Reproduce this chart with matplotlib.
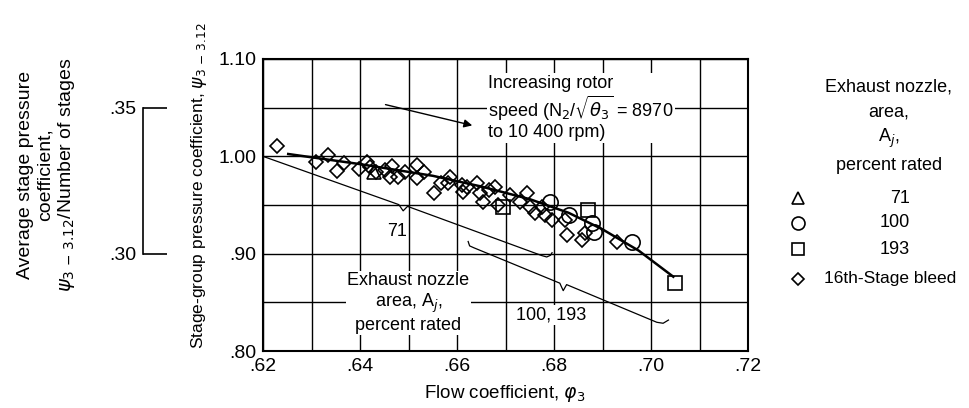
import numpy as np
import matplotlib
matplotlib.use("Agg")
import matplotlib.pyplot as plt

plt.rcParams['font.family'] = ['Liberation Sans', 'DejaVu Sans']
plt.rcParams['font.size'] = 13
plt.rcParams['mathtext.fontset'] = 'dejavusans'

# 16th-stage bleed points (flow coefficient, pressure coefficient)
bleed_phi = [.6228, .6309, .6335, .6352, .6366, .6397, .6414, .6421, .6434, .6452,
             .6462, .6467, .6479, .6493, .6517, .6517, .6531, .6553, .6568, .6586,
             .6582, .6610, .6613, .6620, .6641, .6647, .6654, .6665, .6678, .6685,
             .6709, .6730, .6744, .6751, .6761, .6775, .6781, .6795, .6826, .6823,
             .6857, .6864, .6929]
bleed_psi = [1.0106, .9939, 1.0014, .9852, .9928, .9866, .9945, .9887, .9842, .9860,
             .9791, .9901, .9791, .9842, .9911, .9774, .9842, .9626, .9722, .9791,
             .9722, .9706, .9637, .9680, .9722, .9620, .9534, .9654, .9688, .9500,
             .9603, .9534, .9620, .9483, .9414, .9483, .9397, .9346, .9192, .9346,
             .9140, .9209, .9123]

# exhaust nozzle area points
a71_phi = [.6429]
a71_psi = [.9842]
a100_phi = [.6792, .6830, .6878, .6882, .6960]
a100_psi = [.9534, .9397, .9312, .9226, .9124]
a193_phi = [.6695, .6871, .7049]
a193_psi = [.9483, .9449, .8696]

# faired curve
curve_phi = [.6252, .640, .655, .665, .675, .683, .690, .6975, .7046]
curve_psi = [1.0024, .9920, .9800, .9690, .9560, .9420, .9250, .9030, .8763]

# leader lines with braces
lead71_phi = [.6200, .6480, .6489, .6498, .6775, .6785, .6793, .6796]
lead71_psi = [1.0000, .9504, .9440, .9486, .8980, .8966, .8984, .9010]
lead100_phi = [.6623, .6626, .6635, .6812, .6819, .6826, .7012, .7025, .7036]
lead100_psi = [.9125, .9080, .9060, .8697, .8620, .8682, .8295, .8285, .8318]

xticks = [.62, .64, .66, .68, .70, .72]
xtick_labels = ['.62', '.64', '.66', '.68', '.70', '.72']
yticks = [.80, .90, 1.00, 1.10]
ytick_labels = ['.80', '.90', '1.00', '1.10']

fig = plt.figure(figsize=(9.7, 4.08), dpi=100)
ax = fig.add_axes([263/970, 1 - 351/408, 485/970, 292/408])
ax.set_xlim(.62, .72)
ax.set_ylim(.80, 1.10)
ax.set_xticks(xticks)
ax.set_xticklabels(xtick_labels, fontsize=14)
ax.set_yticks(yticks)
ax.set_yticklabels(ytick_labels, fontsize=14)
ax.set_xticks(np.arange(.63, .72, .02), minor=True)
ax.set_yticks([.85, .95, 1.05], minor=True)
ax.grid(which='both', color='k', lw=1.0)
ax.tick_params(which='both', length=0, pad=5)
for s in ax.spines.values():
    s.set_linewidth(1.5)

ax.plot(curve_phi, curve_psi, color='k', lw=1.8)
ax.plot(lead71_phi, lead71_psi, color='k', lw=0.9)
ax.plot(lead100_phi, lead100_psi, color='k', lw=0.9)

mk = dict(ls='none', mfc='none', mec='k', mew=1.2)
ax.plot(bleed_phi, bleed_psi, marker='D', ms=7.5, **mk)
ax.plot(a71_phi, a71_psi, marker='^', ms=10, **mk)
ax.plot(a100_phi, a100_psi, marker='o', ms=11, **mk)
ax.plot(a193_phi, a193_psi, marker='s', ms=10, **mk)

wbox = dict(facecolor='white', edgecolor='none', pad=1)
ax.text(.6664, 1.0497, 'Increasing rotor\nspeed (N$_2$/$\\sqrt{\\theta_3}$ = 8970\nto 10 400 rpm)',
        ha='left', va='center', linespacing=1.1, bbox=wbox)
ax.annotate('', xy=(.6637, 1.0311), xytext=(.6447, 1.0538),
            arrowprops=dict(arrowstyle='-|>', color='k', lw=1.0, mutation_scale=12))
ax.text(.6476, .9226, '71', ha='center', va='center')
ax.text(.6500, .8493, 'Exhaust nozzle\narea, A$_j$,\npercent rated',
        ha='center', va='center', linespacing=1.15, bbox=wbox)
ax.text(.6795, .8370, '100, 193', ha='center', va='center', bbox=wbox)

# average stage coefficient scale (3 stages)
sec = ax.secondary_yaxis(-0.247, functions=(lambda y: y / 3, lambda y: y * 3))
sec.set_yticks([.30, .35])
sec.set_yticklabels(['.30', '.35'], fontsize=14)
sec.tick_params(direction='in', length=17, width=1.2, pad=5)
sec.spines['left'].set_bounds(.30, .35)
sec.spines['left'].set_linewidth(1.2)

fig.text(47/970, 1 - 175/408,
         'Average stage pressure\ncoefficient,\n$\\psi_{3\\,-\\,3.12}$/Number of stages',
         rotation=90, ha='center', va='center', multialignment='center', linespacing=1.15,
         fontsize=14)
fig.text(199/970, 1 - 186/408, 'Stage-group pressure coefficient, $\\psi_{3\\,-\\,3.12}$',
         rotation=90, ha='center', va='center', fontsize=12.5)
fig.text(505/970, 1 - 393/408, 'Flow coefficient, $\\varphi_3$', ha='center', va='center',
         fontsize=13.5)

# legend
fig.text(889/970, 1 - 87/408, 'Exhaust nozzle,', ha='center', va='center')
fig.text(889/970, 1 - 112/408, 'area,', ha='center', va='center')
fig.text(889/970, 1 - 138/408, 'A$_j$,', ha='center', va='center')
fig.text(889/970, 1 - 166/408, 'percent rated', ha='center', va='center')
leg = [('^', 10, '71', 198), ('o', 11, '100', 223), ('s', 10, '193', 249)]
for m, s, lab, yp in leg:
    ax.plot([798/970], [1 - yp/408], marker=m, ms=s * 0.85, transform=fig.transFigure,
            clip_on=False, **mk)
    fig.text(910/970, 1 - yp/408, lab, ha='right', va='center')
ax.plot([798/970], [1 - 279/408], marker='D', ms=6.5, transform=fig.transFigure,
        clip_on=False, **mk)
fig.text(824/970, 1 - 279/408, '16th-Stage bleed', ha='left', va='center', fontsize=12.5)

fig.savefig('out.png', dpi=100)
